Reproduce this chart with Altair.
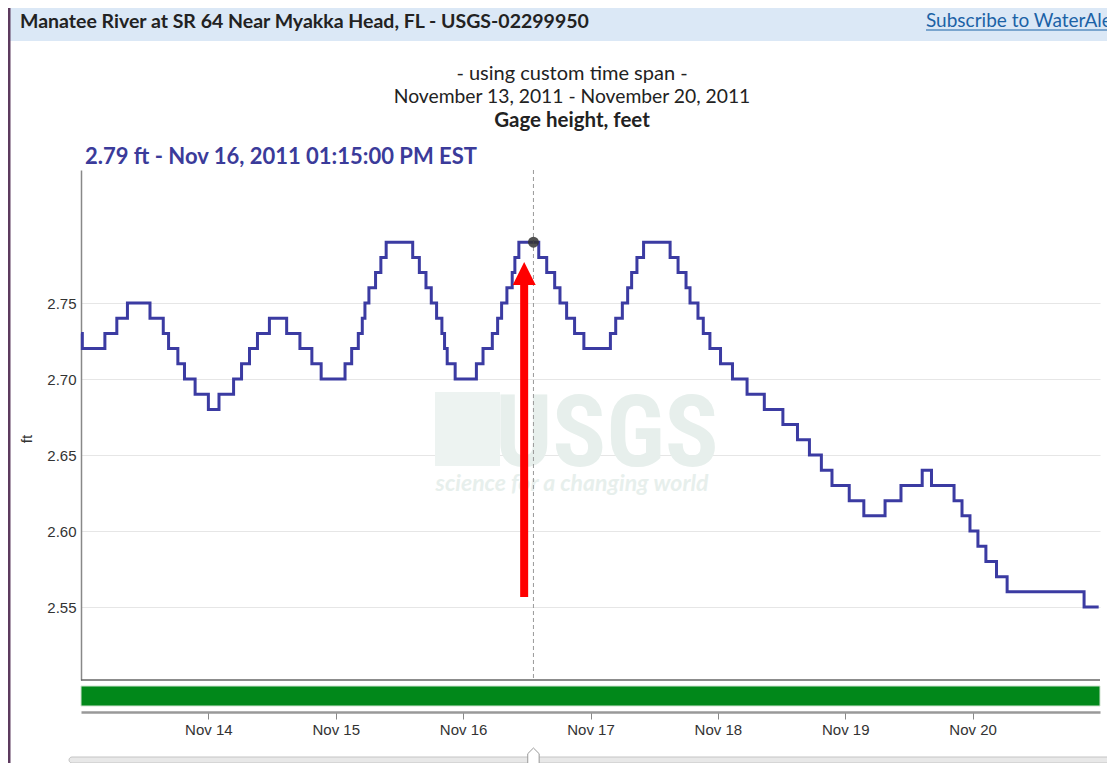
import altair as alt
import pandas as pd

# ---- data ----
# hours after 2011-11-13 00:00 at which the gage height steps to a new value
step_hours = [0, 0.25, 4.5, 6.75, 8.75, 13, 15.5, 16.5, 18.25, 19.5, 21.5, 24, 26, 28.75,
              30.25, 31.75, 33.25, 35.5, 38.75, 41.25, 43.5, 45.25, 49.75, 51, 52.25, 53,
              53.5, 54.25, 55.5, 56.5, 57.5, 62.5, 63.75, 65, 66, 67, 68, 68.5, 69, 70.5,
              74.5, 75.75, 77.5, 78.5, 79.25, 80.25, 81.25, 81.75, 82.5, 86.25, 87.75,
              89.25, 90.25, 91.5, 93, 94.75, 99.75, 100.75, 102, 103, 103.75, 104.75, 106,
              111, 112.5, 114, 114.75, 116.25, 117.25, 118.5, 120.5, 122.75, 125.5, 128.75,
              132.25, 135, 137.25, 139.5, 141.5, 144.75, 147.5, 151.5, 154.5, 158.5, 160.25,
              164.5, 166, 167.5, 169, 170.5, 172.5, 174.5, 189, 191.75]
gage_ft = [2.73, 2.72, 2.73, 2.74, 2.75, 2.74, 2.73, 2.72, 2.71, 2.70, 2.69, 2.68, 2.69, 2.70,
           2.71, 2.72, 2.73, 2.74, 2.73, 2.72, 2.71, 2.70, 2.71, 2.72, 2.73, 2.74,
           2.75, 2.76, 2.77, 2.78, 2.79, 2.78, 2.77, 2.76, 2.75, 2.74, 2.73, 2.72, 2.71, 2.70,
           2.71, 2.72, 2.73, 2.74, 2.75, 2.76, 2.77, 2.78, 2.79, 2.78, 2.77,
           2.76, 2.75, 2.74, 2.73, 2.72, 2.73, 2.74, 2.75, 2.76, 2.77, 2.78, 2.79,
           2.78, 2.77, 2.76, 2.75, 2.74, 2.73, 2.72, 2.71, 2.70, 2.69, 2.68,
           2.67, 2.66, 2.65, 2.64, 2.63, 2.62, 2.61, 2.62, 2.63, 2.64, 2.63,
           2.62, 2.61, 2.60, 2.59, 2.58, 2.57, 2.56, 2.55, 2.55]

hover_time = ["2011-11-16T13:15:00"]
hover_value = [2.79]
arrow_time = ["2011-11-16T11:30:00"]
arrow_bottom = [2.5566]
arrow_top = [2.765]
arrow_head = [2.7694]
y_ticks = [2.55, 2.60, 2.65, 2.70, 2.75]
x_tick_days = [14, 15, 16, 17, 18, 19, 20]

header_title = "Manatee River at SR 64 Near Myakka Head, FL - USGS-02299950"
link_text = "Subscribe to WaterAlert"
sub1 = "- using custom time span -"
sub2 = "November 13, 2011 - November 20, 2011"
sub3 = "Gage height, feet"
hover_text = "2.79 ft - Nov 16, 2011 01:15:00 PM EST"

base = pd.Timestamp("2011-11-13 00:00")
times = [(base + pd.Timedelta(hours=h)).strftime("%Y-%m-%dT%H:%M:%S") for h in step_hours]
df = pd.DataFrame({"t": times, "v": gage_ft})
hover_df = pd.DataFrame({"t": hover_time, "v": hover_value})
arrow_df = pd.DataFrame({"t": arrow_time, "v": arrow_bottom, "v2": arrow_top, "vh": arrow_head})
dummy = pd.DataFrame({"d": [0]})

W, H = 1019, 510
LINE = "#3b3ba2"
SANS = "Lato, 'Noto Sans', sans-serif"
AX = "'Liberation Sans', Arial, sans-serif"

xs = alt.Scale(domain=[alt.DateTime(year=2011, month=11, date=13),
                       alt.DateTime(year=2011, month=11, date=21)])
ys = alt.Scale(domain=[2.502, 2.8375], nice=False, zero=False)

x_axis = alt.Axis(values=[alt.DateTime(year=2011, month=11, date=d) for d in x_tick_days],
                  format="%b %d", grid=False, tickSize=7, tickColor="#888", tickWidth=1,
                  domainColor="#999", domainWidth=2.5, offset=32, labelPadding=3,
                  labelFont=AX, labelFontSize=15, labelColor="#333", title=None)
y_axis = alt.Axis(values=y_ticks, format=".2f", grid=True, gridColor="#e6e6e6", gridWidth=1.2,
                  ticks=False, domain=True, domainColor="#888", domainWidth=1.5,
                  labelFont=AX, labelFontSize=15, labelColor="#333", labelPadding=5, title=None)


def X(field="t:T"):
    return alt.X(field, scale=xs, axis=x_axis)


def Y(field="v:Q"):
    return alt.Y(field, scale=ys, axis=y_axis)


# ---- decorations (page chrome) ----
header_bg = alt.Chart(dummy).mark_rect(color="#dbe8f6").encode(
    x=alt.value(-71), x2=alt.value(1040), y=alt.value(-162), y2=alt.value(-129))
left_border = alt.Chart(dummy).mark_rule(color="#5c3a5e", strokeWidth=3).encode(
    x=alt.value(-72), y=alt.value(-162), y2=alt.value(600))
header_txt = alt.Chart(dummy).mark_text(text=header_title, font=SANS, fontSize=19.5, fontWeight="bold",
                                        color="#222", align="left", baseline="middle").encode(
    x=alt.value(-61), y=alt.value(-148))
link_txt = alt.Chart(dummy).mark_text(text=link_text, font=SANS, fontSize=19, color="#1b62a6",
                                      align="left", baseline="middle").encode(
    x=alt.value(845), y=alt.value(-149))
link_ul = alt.Chart(dummy).mark_rule(color="#1b62a6", strokeWidth=1.2).encode(
    x=alt.value(845), x2=alt.value(1040), y=alt.value(-140))
t1 = alt.Chart(dummy).mark_text(text=sub1, font=SANS, fontSize=20, color="#222",
                                align="center", baseline="middle").encode(x=alt.value(491), y=alt.value(-96))
t2 = alt.Chart(dummy).mark_text(text=sub2, font=SANS, fontSize=19.3, color="#222",
                                align="center", baseline="middle").encode(x=alt.value(491), y=alt.value(-73))
t3 = alt.Chart(dummy).mark_text(text=sub3, font=SANS, fontSize=20.5, fontWeight="bold", color="#222",
                                align="center", baseline="middle").encode(x=alt.value(491), y=alt.value(-49))
hover_lbl = alt.Chart(dummy).mark_text(text=hover_text, font=SANS, fontSize=22, fontWeight="bold",
                                       color="#3b3b9a", align="left", baseline="middle").encode(
    x=alt.value(4), y=alt.value(-13))
ft_lbl = alt.Chart(dummy).mark_text(text="ft", font=AX, fontSize=15, color="#333", angle=270,
                                    align="center", baseline="middle").encode(
    x=alt.value(-54), y=alt.value(269))

# watermark
wm_col = "#e7efec"
wm_logo = alt.Chart(dummy).mark_rect(color="#edf3f1").encode(
    x=alt.value(354), x2=alt.value(419), y=alt.value(222), y2=alt.value(296))
wm_usgs = alt.Chart(dummy).mark_text(text="USGS", font="'Liberation Sans Narrow', 'Roboto Condensed', 'Liberation Sans', sans-serif",
                                     fontSize=100, fontWeight="bold", color=wm_col,
                                     align="center", baseline="alphabetic").encode(
    x=alt.value(526), y=alt.value(296))
wm_sub = alt.Chart(dummy).mark_text(text="science for a changing world", font=SANS, fontSize=23,
                                    fontWeight="bold", fontStyle="italic", color=wm_col,
                                    align="center", baseline="middle").encode(
    x=alt.value(491), y=alt.value(314))

# frame lines
bottom_line = alt.Chart(dummy).mark_rule(color="#666", strokeWidth=1.5).encode(
    x=alt.value(0), x2=alt.value(W), y=alt.value(H))
green_bar = alt.Chart(dummy).mark_rect(color="#01881a", stroke="#cfe3cf", strokeWidth=1).encode(
    x=alt.value(0), x2=alt.value(W), y=alt.value(516), y2=alt.value(536))
slider = alt.Chart(dummy).mark_rect(color="#e8e8e8", stroke="#c4c4c4", strokeWidth=1, cornerRadius=3).encode(
    x=alt.value(-12), x2=alt.value(1030), y=alt.value(587), y2=alt.value(593))

# ---- data layers ----
line = alt.Chart(df).mark_line(interpolate="step-after", color=LINE, strokeWidth=3).encode(
    x=X(), y=Y())
vrule = alt.Chart(hover_df).mark_rule(color="#999", strokeDash=[4, 3], strokeWidth=1).encode(
    x=X())
dot = alt.Chart(hover_df).mark_point(filled=True, color="#333", opacity=0.85, size=120).encode(
    x=X(), y=Y())
shaft = alt.Chart(arrow_df).mark_rule(color="#ff0000", strokeWidth=8).encode(
    x=X(), y=Y(), y2="v2:Q")
head = alt.Chart(arrow_df).mark_point(shape="M0,-1L1,1L-1,1Z", filled=True, color="#ff0000",
                                      opacity=1, size=529).encode(
    x=X(), y=Y("vh:Q"))
handle = alt.Chart(hover_df).mark_point(shape="M0,-1L0.6,-0.4L0.6,1L-0.6,1L-0.6,-0.4Z", filled=True,
                                        fill="white", stroke="#999", strokeWidth=1, opacity=1,
                                        size=361).encode(
    x=X(), y=alt.value(587.5))

chart = alt.layer(
    header_bg, left_border, header_txt, link_txt, link_ul, t1, t2, t3, hover_lbl, ft_lbl,
    wm_logo, wm_usgs, wm_sub,
    line, vrule, shaft, head, dot, bottom_line, green_bar, slider, handle
).properties(
    width=W, height=H,
    autosize=alt.AutoSizeParams(type="none"),
    padding={"left": 73, "top": 162, "right": 7, "bottom": 83}
).configure_view(stroke=None)

chart.save("out.html", embed_options={"renderer": "svg", "actions": False})
